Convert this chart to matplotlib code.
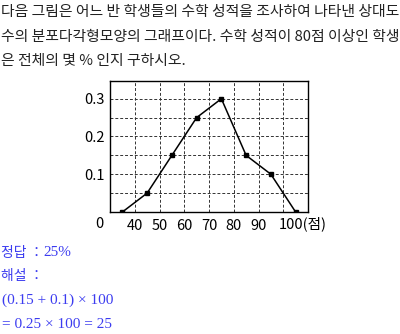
import numpy as np
import matplotlib.pyplot as plt

plt.rcParams['font.family'] = ['Noto Sans CJK KR', 'DejaVu Sans']

# 계급값, 상대도수
score = [35, 45, 55, 65, 75, 85, 95, 105]
rel_freq = [0, 0.05, 0.15, 0.25, 0.3, 0.15, 0.1, 0]
xticks = [40, 50, 60, 70, 80, 90, 100]
yticks = [0.1, 0.2, 0.3]

W, H = 400, 334
fig = plt.figure(figsize=(W / 100, H / 100), dpi=100)

def px(x, y):
    return x / W, 1 - y / H

# 문제
question = ["다음 그림은 어느 반 학생들의 수학 성적을 조사하여 나타낸 상대도",
            "수의 분포다각형모양의 그래프이다. 수학 성적이 80점 이상인 학생",
            "은 전체의 몇 % 인지 구하시오."]
for i, line in enumerate(question):
    fig.text(*px(1, 12 + 24.5 * i), line, fontsize=10.7, color='#222222', va='center', ha='left')

# 그래프
ax = fig.add_axes([110 / W, 1 - 212 / H, 198 / W, 131 / H])
ax.plot(score, rel_freq, color='black', lw=1.1, marker='s', ms=2.2)
ax.set_xlim(30, 110)
ax.set_ylim(0, 0.347)
ax.set_xticks(xticks)
ax.set_yticks(np.arange(0.05, 0.35, 0.05))
ax.set_yticklabels(['', '0.1', '', '0.2', '', '0.3'])
ax.set_xticklabels([str(v) for v in xticks[:-1]] + [''])
ax.grid(True, linestyle=(0, (3, 2)), color='#333333', lw=0.7)
ax.tick_params(length=0, labelsize=10.5)
ax.tick_params(axis='y', pad=4)
ax.tick_params(axis='x', pad=5)
for s in ax.spines.values():
    s.set_linewidth(1.0)
fig.text(*px(99, 224), '0', fontsize=10.5, ha='center', va='center')
fig.text(*px(279, 224), f'{xticks[-1]}(점)', fontsize=10.5, ha='left', va='center')

# 정답, 해설
blue = '#3c3cf0'
fig.text(*px(1, 253), '정답 ：', fontsize=10, color=blue, va='center')
fig.text(*px(43, 253), '25%', fontsize=11, color=blue, va='center', family='Liberation Serif')
fig.text(*px(1, 276), '해설 ：', fontsize=10, color=blue, va='center')
fig.text(*px(2, 300), '(0.15 + 0.1) × 100', fontsize=11, color=blue, va='center', family='Liberation Serif')
fig.text(*px(2, 325), '= 0.25 × 100 = 25', fontsize=11, color=blue, va='center', family='Liberation Serif')

fig.savefig('out.png', dpi=100)
